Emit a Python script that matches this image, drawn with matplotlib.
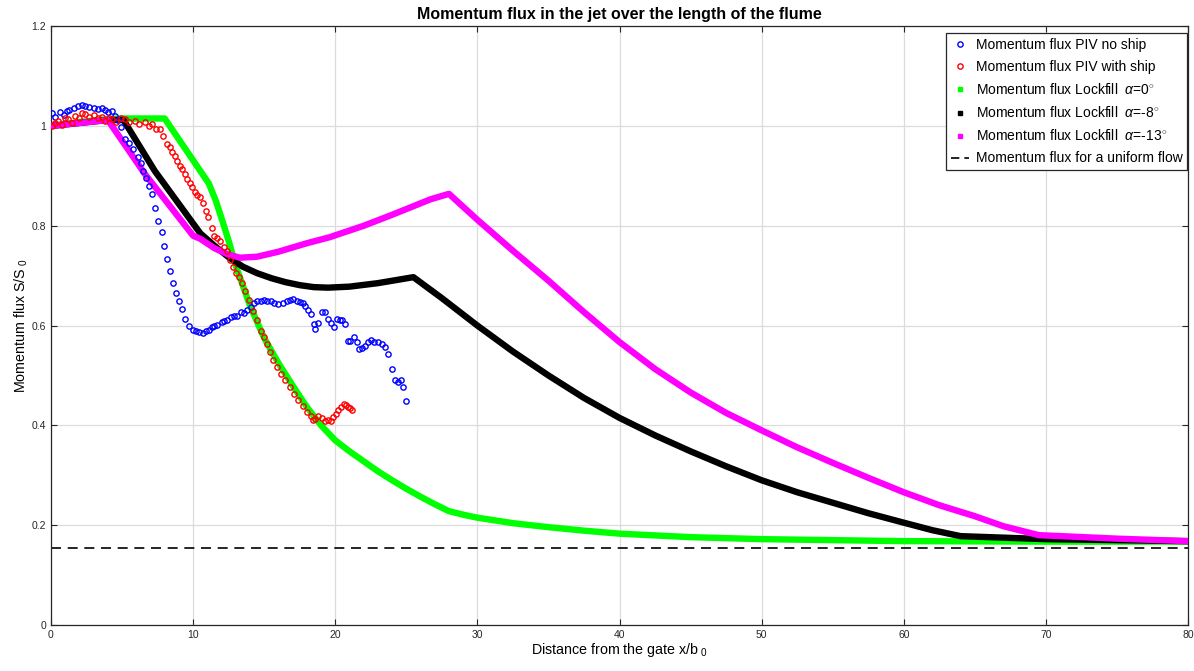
import numpy as np
import matplotlib
matplotlib.use('Agg')
from matplotlib import pyplot as plt
from matplotlib.lines import Line2D

plt.rcParams['font.family'] = ['Liberation Sans', 'DejaVu Sans']
plt.rcParams['mathtext.fontset'] = 'custom'
plt.rcParams['mathtext.rm'] = 'Liberation Sans'
plt.rcParams['mathtext.it'] = 'Liberation Sans:italic'

# PIV, no ship (blue circles)
piv_noship_x = [0.1, 0.3, 0.6, 0.9, 1.1, 1.3, 1.6, 1.9, 2.2, 2.4, 2.7, 3.0, 3.3, 3.6, 3.8, 4.0,
                4.3, 4.5, 4.7, 4.9, 5.2, 5.5, 5.8, 6.1, 6.3, 6.5, 6.7, 6.9, 7.1, 7.3, 7.55, 7.8,
                7.95, 8.15, 8.4, 8.6, 8.8, 9.0, 9.2, 9.45, 9.7, 10.0, 10.2, 10.4, 10.7, 10.9,
                11.1, 11.3, 11.5, 11.7, 12.0, 12.2, 12.4, 12.7, 12.9, 13.1, 13.4, 13.6, 13.8,
                14.1, 14.3, 14.5, 14.8, 15.0, 15.2, 15.5, 15.7, 16.0, 16.3, 16.6, 16.8, 17.05,
                17.3, 17.5, 17.7, 17.9, 18.1, 18.3, 18.5, 18.6, 18.8, 19.05, 19.3, 19.5, 19.7,
                19.9, 20.1, 20.3, 20.5, 20.7, 20.9, 21.05, 21.3, 21.5, 21.7, 21.9, 22.1, 22.3,
                22.5, 22.7, 23.0, 23.3, 23.5, 23.7, 24.0, 24.2, 24.4, 24.6, 24.8, 25.0]
piv_noship_y = [1.025, 1.018, 1.028, 1.022, 1.030, 1.033, 1.036, 1.040, 1.043, 1.040, 1.038,
                1.037, 1.035, 1.036, 1.033, 1.027, 1.030, 1.020, 1.012, 0.997, 0.974, 0.965,
                0.954, 0.937, 0.925, 0.910, 0.895, 0.880, 0.864, 0.836, 0.810, 0.787, 0.760,
                0.733, 0.710, 0.685, 0.665, 0.650, 0.633, 0.613, 0.600, 0.591, 0.589, 0.588,
                0.585, 0.590, 0.591, 0.597, 0.599, 0.601, 0.607, 0.609, 0.611, 0.618, 0.620,
                0.619, 0.627, 0.625, 0.631, 0.638, 0.645, 0.649, 0.650, 0.652, 0.650, 0.649,
                0.645, 0.643, 0.646, 0.650, 0.651, 0.653, 0.650, 0.647, 0.645, 0.640, 0.632,
                0.623, 0.603, 0.594, 0.605, 0.627, 0.627, 0.613, 0.605, 0.597, 0.613, 0.612,
                0.611, 0.603, 0.570, 0.570, 0.577, 0.567, 0.553, 0.556, 0.560, 0.567, 0.572,
                0.567, 0.567, 0.563, 0.557, 0.543, 0.513, 0.490, 0.487, 0.490, 0.477, 0.449]

# PIV, with ship (red circles)
piv_ship_x = [0.05, 0.3, 0.5, 0.8, 1.0, 1.2, 1.5, 1.7, 2.0, 2.2, 2.4, 2.7, 3.0, 3.3, 3.57,
              3.8, 4.1, 4.3, 4.6, 4.9, 5.2, 5.5, 5.9, 6.2, 6.6, 6.9, 7.1, 7.4, 7.7, 7.9,
              8.15, 8.35, 8.5, 8.7, 8.85, 9.05, 9.2, 9.4, 9.55, 9.75, 9.9, 10.1, 10.3, 10.5,
              10.7, 10.9, 11.07, 11.3, 11.5, 11.7, 11.9, 12.15, 12.4, 12.6, 12.8, 13.0, 13.2,
              13.45, 13.65, 13.9, 14.2, 14.5, 14.8, 15.0, 15.2, 15.4, 15.6, 15.9, 16.2, 16.5,
              16.8, 17.1, 17.4, 17.7, 18.0, 18.3, 18.45, 18.6, 18.8, 19.05, 19.3, 19.5, 19.7,
              19.87, 20.05, 20.2, 20.4, 20.6, 20.75, 20.9, 21.05, 21.2]
piv_ship_y = [1.000, 1.005, 1.010, 1.002, 1.015, 1.013, 1.005, 1.020, 1.015, 1.025, 1.023,
              1.018, 1.021, 1.015, 1.017, 1.010, 1.016, 1.013, 1.008, 1.015, 1.013, 1.007,
              1.010, 1.003, 1.007, 1.000, 1.003, 0.993, 0.993, 0.980, 0.963, 0.957, 0.947,
              0.940, 0.930, 0.920, 0.913, 0.903, 0.893, 0.885, 0.877, 0.868, 0.862, 0.857,
              0.845, 0.830, 0.817, 0.795, 0.780, 0.775, 0.770, 0.758, 0.750, 0.732, 0.717,
              0.705, 0.697, 0.685, 0.670, 0.652, 0.630, 0.612, 0.590, 0.577, 0.563, 0.547,
              0.530, 0.517, 0.503, 0.490, 0.477, 0.463, 0.450, 0.438, 0.427, 0.418, 0.410,
              0.413, 0.418, 0.415, 0.409, 0.411, 0.408, 0.417, 0.422, 0.430, 0.437, 0.443,
              0.440, 0.437, 0.434, 0.431]

# Lockfill alpha = 0 (green)
lock0_x = [0, 2, 4, 5, 8.0, 11.1, 11.6, 12.0, 12.5, 13.0, 13.5, 14, 15, 16, 17, 18, 19, 20,
           21, 22, 23, 24, 25, 26, 27, 28, 29, 30, 32.5, 35, 37.5, 40, 45, 50, 55, 60, 70, 80]
lock0_y = [1.000, 1.008, 1.014, 1.015, 1.015, 0.885, 0.850, 0.815, 0.770, 0.720, 0.680,
           0.640, 0.575, 0.525, 0.480, 0.437, 0.400, 0.370, 0.348, 0.328, 0.308, 0.290,
           0.273, 0.257, 0.242, 0.228, 0.221, 0.215, 0.204, 0.196, 0.189, 0.183, 0.176,
           0.172, 0.170, 0.168, 0.167, 0.167]

# Lockfill alpha = -8 (black)
lock8_x = [0, 2, 4, 5.1, 7.3, 10.5, 11.5, 12.5, 13.5, 14.5, 15.5, 16.5, 17.5, 18.5, 19.5,
           21, 23, 25.5, 27.5, 30, 32.5, 35, 37.5, 40, 42.5, 45, 47.5, 50, 52.5, 55, 57.5,
           60, 62, 64, 70, 80]
lock8_y = [1.000, 1.006, 1.012, 1.012, 0.910, 0.785, 0.760, 0.737, 0.718, 0.705, 0.695,
           0.687, 0.681, 0.677, 0.676, 0.678, 0.685, 0.697, 0.655, 0.600, 0.548, 0.500,
           0.455, 0.415, 0.380, 0.348, 0.318, 0.290, 0.266, 0.245, 0.224, 0.205, 0.190,
           0.178, 0.172, 0.168]

# Lockfill alpha = -13 (magenta)
lock13_x = [0, 2, 4.0, 6.6, 10.0, 10.5, 11.5, 12.5, 13.3, 14.5, 16, 18, 19.6, 22, 24, 26.7,
            28, 30, 32.5, 35, 37.5, 40, 42.5, 45, 47.5, 50, 52.5, 55, 57.5, 60, 62.5, 65,
            67, 69.5, 75, 80]
lock13_y = [1.000, 1.006, 1.012, 0.904, 0.780, 0.774, 0.755, 0.742, 0.736, 0.738, 0.748,
            0.765, 0.777, 0.800, 0.822, 0.853, 0.864, 0.812, 0.750, 0.690, 0.627, 0.567,
            0.513, 0.466, 0.425, 0.390, 0.356, 0.325, 0.295, 0.266, 0.240, 0.218, 0.198,
            0.180, 0.173, 0.168]

uniform_flux = 0.155
x_ticks = np.arange(0, 81, 10)
y_ticks = [0, 0.2, 0.4, 0.6, 0.8, 1.0, 1.2]
y_ticklabels = ['0', '0.2', '0.4', '0.6', '0.8', '1', '1.2']

fig = plt.figure(figsize=(11.94, 6.71), dpi=100)
ax = fig.add_axes([0.0427, 0.0686, 0.9523, 0.8924])

ax.grid(True, color='#dcdcdc', linewidth=0.9)
ax.set_axisbelow(True)

ax.axhline(uniform_flux, color='black', linestyle=(0, (6, 4)), linewidth=1.2, zorder=2)
ax.plot(lock0_x, lock0_y, color='#00ff00', linewidth=4.6, solid_joinstyle='round', zorder=3)
ax.plot(lock8_x, lock8_y, color='black', linewidth=4.6, solid_joinstyle='round', zorder=3)
ax.plot(lock13_x, lock13_y, color='#ff00ff', linewidth=4.6, solid_joinstyle='round', zorder=3)
ax.plot(piv_noship_x, piv_noship_y, 'o', mfc='none', mec='blue', ms=3.8, mew=1.0, zorder=4)
ax.plot(piv_ship_x, piv_ship_y, 'o', mfc='none', mec='red', ms=3.8, mew=1.0, zorder=4)

ax.set_xlim(0, 80)
ax.set_ylim(0, 1.2)
ax.set_xticks(x_ticks)
ax.set_yticks(y_ticks)
ax.set_yticklabels(y_ticklabels)
ax.tick_params(direction='in', top=True, right=True, labelsize=7.5, length=4,
               colors='#262626')
for s in ax.spines.values():
    s.set_color('#262626')
    s.set_linewidth(0.9)

ax.set_title('Momentum flux in the jet over the length of the flume',
             fontsize=11.5, fontweight='bold', pad=5)
ax.set_xlabel(r'Distance from the gate x/b$_{\ 0}$', fontsize=10.3, labelpad=1)
ax.set_ylabel(r'Momentum flux S/S$_{\ 0}$', fontsize=10.3, labelpad=1)

handles = [
    Line2D([], [], marker='o', mfc='none', mec='blue', ms=3.8, mew=1.0, ls='none'),
    Line2D([], [], marker='o', mfc='none', mec='red', ms=3.8, mew=1.0, ls='none'),
    Line2D([], [], marker='s', color='#00ff00', ms=3.2, ls='none'),
    Line2D([], [], marker='s', color='black', ms=3.2, ls='none'),
    Line2D([], [], marker='s', color='#ff00ff', ms=3.2, ls='none'),
    Line2D([], [], color='black', ls=(0, (5, 3)), lw=1.2),
]
labels = [
    'Momentum flux PIV no ship',
    'Momentum flux PIV with ship',
    r'Momentum flux Lockfill  $\alpha$=0$^{\circ}$',
    r'Momentum flux Lockfill  $\alpha$=-8$^{\circ}$',
    r'Momentum flux Lockfill  $\alpha$=-13$^{\circ}$',
    'Momentum flux for a uniform flow',
]
leg = ax.legend(handles, labels, loc='upper right', fontsize=10, fancybox=False,
                edgecolor='#262626', framealpha=1, handlelength=1.3, handletextpad=0.5,
                borderpad=0.35, labelspacing=0.58, borderaxespad=0,
                bbox_to_anchor=(0.9995, 0.988))
leg.get_frame().set_linewidth(0.9)

fig.savefig('out.png', dpi=100)
